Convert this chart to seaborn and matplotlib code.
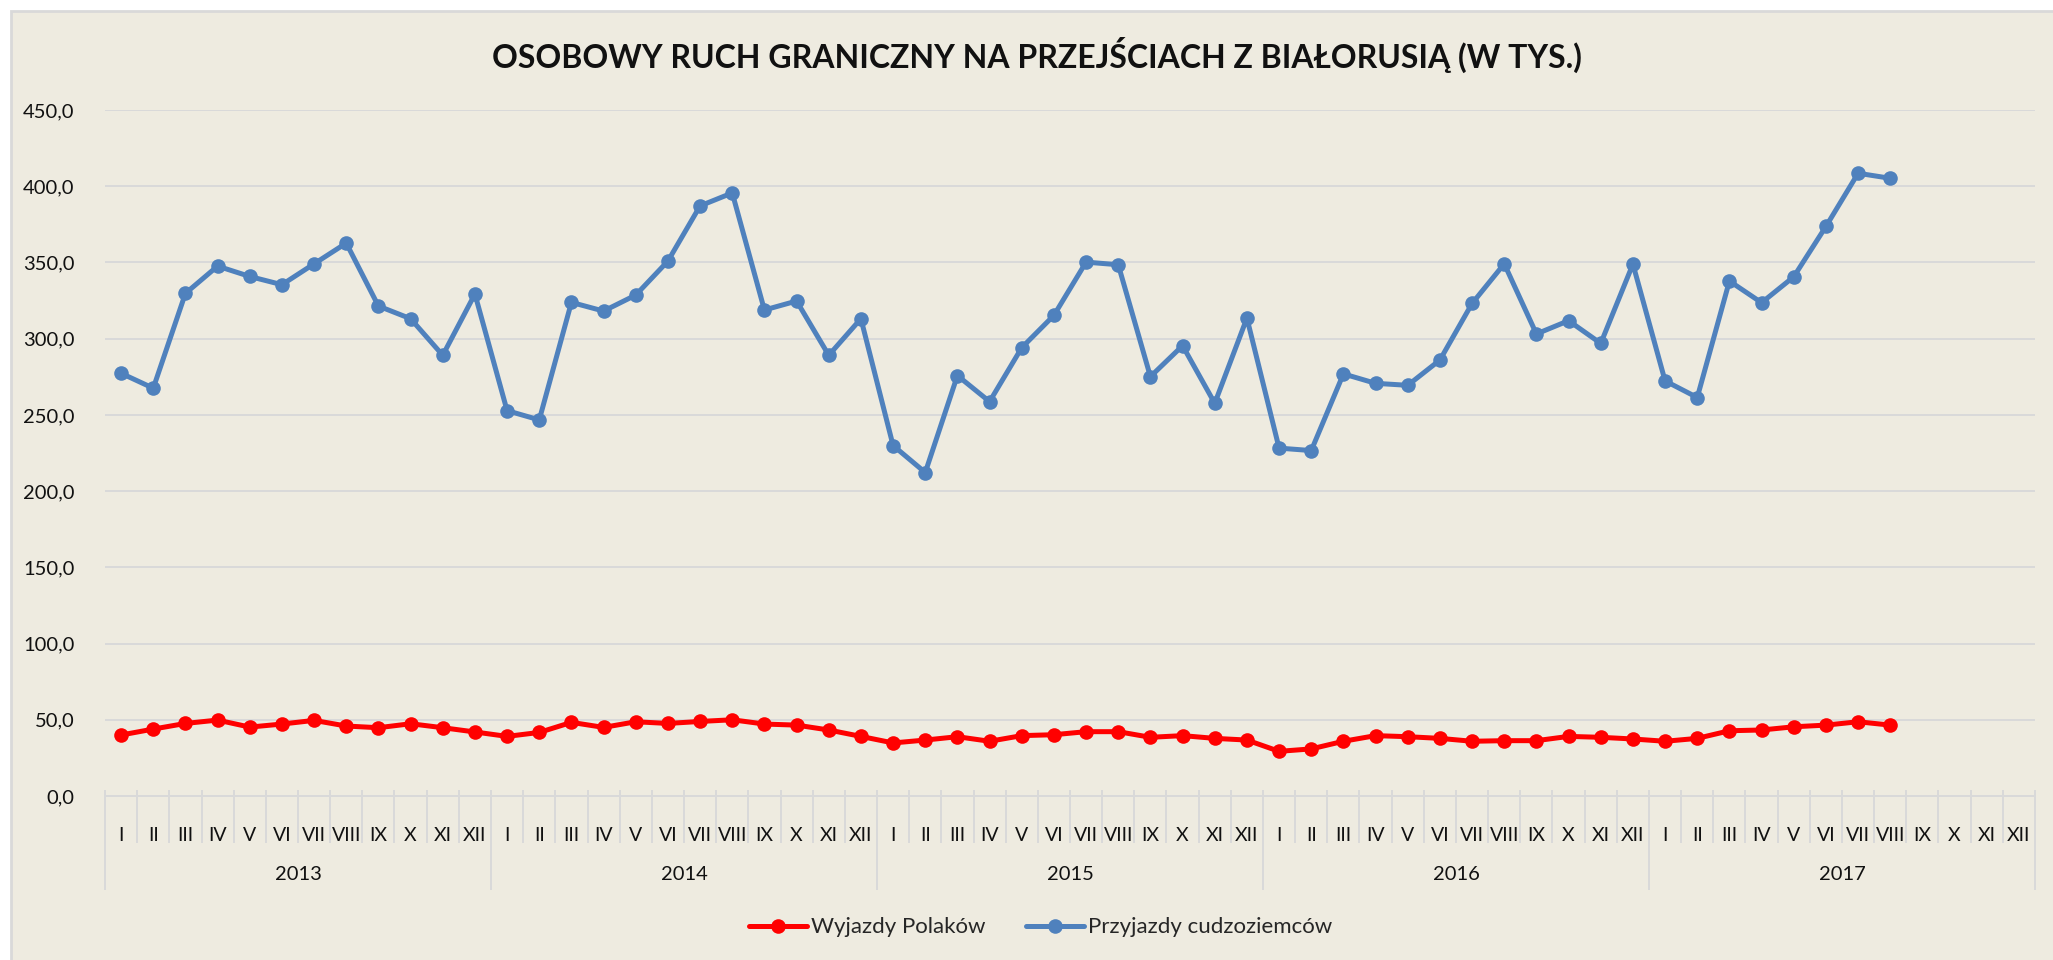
import numpy as np
import pandas as pd
import seaborn as sns
import matplotlib.pyplot as plt
from matplotlib.patches import Rectangle
from matplotlib.ticker import FuncFormatter

# data (thousands of people)
years = ["2013", "2014", "2015", "2016", "2017"]
months = ["I", "II", "III", "IV", "V", "VI", "VII", "VIII", "IX", "X", "XI", "XII"]

przyjazdy = [
    277.3, 267.5, 329.7, 347.6, 340.8, 335.4, 349.1, 362.7, 321.4, 313.1, 289.1, 329.3,
    252.8, 246.7, 323.8, 318.1, 328.6, 350.9, 387.1, 395.6, 318.8, 324.7, 289.1, 313.1,
    229.9, 212.2, 275.8, 258.7, 294.1, 315.3, 350.2, 348.5, 275.1, 295.4, 257.6, 313.5,
    228.2, 226.6, 276.9, 270.7, 269.4, 286.0, 323.1, 349.1, 303.1, 311.8, 296.9, 348.9,
    272.3, 261.4, 337.8, 323.6, 340.6, 373.6, 408.5, 405.2, None, None, None, None,
]
wyjazdy = [
    40.0, 43.9, 47.6, 49.8, 45.2, 47.2, 49.6, 45.9, 44.8, 47.4, 44.8, 42.0,
    39.1, 41.7, 48.3, 45.0, 48.7, 47.6, 48.9, 50.0, 47.2, 46.5, 43.3, 39.1,
    34.8, 36.7, 38.9, 35.9, 39.6, 40.2, 42.2, 42.2, 38.5, 39.6, 37.8, 36.7,
    29.3, 30.9, 35.9, 39.6, 38.9, 37.8, 35.9, 36.3, 36.3, 39.1, 38.5, 37.4,
    35.9, 37.8, 42.8, 43.3, 45.4, 46.5, 48.7, 46.5, None, None, None, None,
]
series_names = ["Wyjazdy Polaków", "Przyjazdy cudzoziemców"]
colors = {"Wyjazdy Polaków": "#FF0000", "Przyjazdy cudzoziemców": "#4F81BD"}

n = len(years) * len(months)
idx = np.arange(n)
df = pd.DataFrame({
    "idx": np.concatenate([idx, idx]),
    "value": pd.to_numeric(pd.Series(wyjazdy + przyjazdy), errors="coerce"),
    "series": [series_names[0]] * n + [series_names[1]] * n,
}).dropna()

bg = "#EEEBE0"
grid_c = "#D9D9D9"

sns.set_theme(style="white")
plt.rcParams["font.family"] = ["Lato", "DejaVu Sans"]

fig = plt.figure(figsize=(20.53, 9.6), dpi=100, facecolor="white")
fig.patches.append(Rectangle((11 / 2053, -0.05), 1.0, 1.05 - 11 / 960,
                             transform=fig.transFigure, facecolor=bg,
                             edgecolor=grid_c, linewidth=2, zorder=-5))
ax = fig.add_axes([105 / 2053, 1 - 796 / 960, (2035 - 105) / 2053, 686 / 960])
ax.set_facecolor(bg)

sns.lineplot(data=df, x="idx", y="value", hue="series", hue_order=series_names,
             palette=colors, marker="o", markersize=10.5, markeredgewidth=0,
             linewidth=3.6, ax=ax, zorder=3)

ax.set_xlim(-0.5, n - 0.5)
ax.set_ylim(0, 450)
ax.set_yticks(np.arange(0, 451, 50))
ax.yaxis.set_major_formatter(FuncFormatter(lambda v, p: f"{v:.1f}".replace(".", ",")))
ax.tick_params(axis="y", length=0, pad=22, labelsize=14.5, labelcolor="#111111")
ax.grid(axis="y", color=grid_c, linewidth=1.4)
ax.grid(axis="x", visible=False)
for s in ["left", "right", "top"]:
    ax.spines[s].set_visible(False)
ax.spines["bottom"].set_color(grid_c)
ax.spines["bottom"].set_linewidth(1.4)
ax.set_xlabel("")
ax.set_ylabel("")

# two-level category axis: months, then years
ax.set_xticks(idx)
ax.set_xticklabels(months * len(years), fontsize=14, color="#111111")
ax.tick_params(axis="x", length=0, pad=22)
trans = ax.get_xaxis_transform()
bounds = np.arange(n + 1) - 0.5
ax.vlines(bounds, -0.0685, 0.009, transform=trans, colors=grid_c,
          linewidth=1.4, clip_on=False, zorder=1)
year_bounds = bounds[::len(months)]
ax.vlines(year_bounds, -0.137, 0.009, transform=trans, colors=grid_c,
          linewidth=1.4, clip_on=False, zorder=1)
for i, y in enumerate(years):
    ax.text(year_bounds[i] + len(months) / 2, -0.115, y, transform=trans,
            ha="center", va="center", fontsize=14.5, color="#111111")

sns.move_legend(ax, "center", bbox_to_anchor=(0.507, 0.034),
                bbox_transform=fig.transFigure, ncol=2, frameon=False,
                title=None, fontsize=16, handlelength=2.6, columnspacing=1.8,
                handletextpad=0.2)

fig.text(0.505, 0.943, "OSOBOWY RUCH GRANICZNY NA PRZEJŚCIACH Z BIAŁORUSIĄ (W TYS.)",
         ha="center", va="center", fontsize=23, fontweight="bold", color="#111111")

fig.savefig("out.png", dpi=100, facecolor="white")
